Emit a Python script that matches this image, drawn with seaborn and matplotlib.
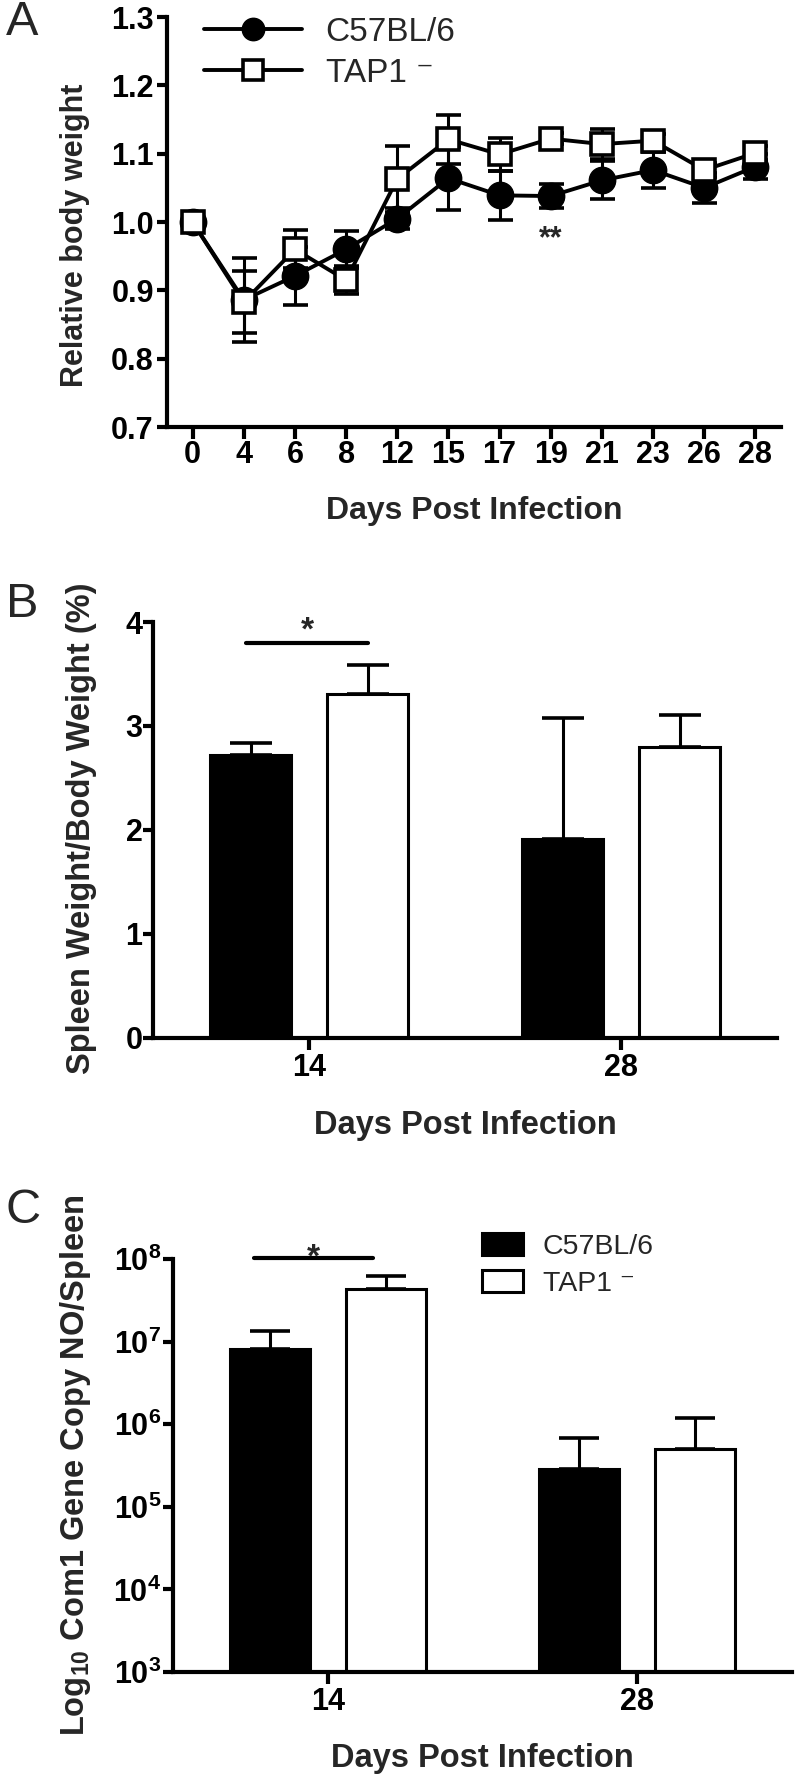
import numpy as np
import pandas as pd
import matplotlib
matplotlib.use("Agg")
import matplotlib.pyplot as plt
import seaborn as sns
from matplotlib.ticker import FormatStrFormatter, NullLocator

# ---- values ----
groups = ["C57BL/6", "TAP1 \u207b"]

# A: relative body weight (mean, SEM)
days_a = ["0", "4", "6", "8", "12", "15", "17", "19", "21", "23", "26", "28"]
c57_weight = [1.000, 0.886, 0.921, 0.960, 1.005, 1.064, 1.039, 1.038, 1.061, 1.076, 1.050, 1.081]
c57_weight_sem = [0.0, 0.061, 0.043, 0.027, 0.015, 0.046, 0.036, 0.017, 0.028, 0.026, 0.022, 0.018]
tap_weight = [1.000, 0.883, 0.960, 0.915, 1.063, 1.121, 1.099, 1.122, 1.114, 1.119, 1.076, 1.101]
tap_weight_sem = [0.0, 0.045, 0.028, 0.020, 0.048, 0.036, 0.024, 0.008, 0.022, 0.010, 0.010, 0.010]

# B: spleen weight / body weight (%)
days_bc = ["14", "28"]
spleen_c57 = [2.72, 1.91]
spleen_c57_sem = [0.12, 1.17]
spleen_tap = [3.31, 2.80]
spleen_tap_sem = [0.28, 0.31]

# C: Com1 gene copies per spleen
copies_c57 = [8.2e6, 2.85e5]
copies_c57_sem = [5.1e6, 3.95e5]
copies_tap = [4.3e7, 5.0e5]
copies_tap_sem = [1.9e7, 6.9e5]
log_exponents = [3, 4, 5, 6, 7, 8]

sns.set_style("ticks")
plt.rcParams["font.family"] = ["Liberation Sans", "DejaVu Sans"]
plt.rcParams.update({
    "axes.linewidth": 3.0,
    "axes.edgecolor": "black",
    "xtick.color": "black",
    "ytick.color": "black",
    "xtick.major.width": 3.0,
    "ytick.major.width": 3.0,
    "xtick.major.size": 8.5,
    "ytick.major.size": 7.5,
    "mathtext.fontset": "custom",
    "mathtext.bf": "Liberation Sans:bold",
    "mathtext.rm": "Liberation Sans:bold",
})

fig = plt.figure(figsize=(8, 17.85), dpi=100)
ax_a = fig.add_axes([0.20875, 0.76078, 0.7675, 0.22969])
ax_b = fig.add_axes([0.19125, 0.41849, 0.78, 0.23305])
ax_c = fig.add_axes([0.21625, 0.06331, 0.77375, 0.23137])


def bold_ticks(ax, size):
    ax.tick_params(labelsize=size)
    for lab in ax.get_xticklabels() + ax.get_yticklabels():
        lab.set_fontweight("bold")


# ---------------- A ----------------
sns.lineplot(x=days_a, y=c57_weight, sort=False, color="black", lw=2.8,
             marker="o", ms=19, mfc="black", mec="black", mew=1,
             label=groups[0], ax=ax_a)
sns.lineplot(x=days_a, y=tap_weight, sort=False, color="black", lw=2.8,
             marker="s", ms=16.5, mfc="white", mec="black", mew=2.6,
             label=groups[1], ax=ax_a)
err_kw = dict(fmt="none", ecolor="black", elinewidth=2.2, capsize=9, capthick=2.6, zorder=1.8)
ax_a.errorbar(days_a, c57_weight, yerr=c57_weight_sem, **err_kw)
ax_a.errorbar(days_a, tap_weight, yerr=tap_weight_sem, **err_kw)

ax_a.set_xlim(-0.5, len(days_a) - 0.5)
ax_a.set_ylim(0.7, 1.3)
ax_a.set_yticks(np.arange(0.7, 1.31, 0.1))
ax_a.yaxis.set_major_formatter(FormatStrFormatter("%.1f"))
ax_a.tick_params(axis="x", pad=1)
ax_a.tick_params(axis="y", pad=2)
bold_ticks(ax_a, 22)
ax_a.set_ylabel("Relative body weight", fontsize=22, fontweight="bold")
ax_a.yaxis.set_label_coords(-0.125, 0.467)
ax_a.set_xlabel("Days Post Infection", fontsize=23, fontweight="bold")
ax_a.xaxis.set_label_coords(0.5, -0.168)
ax_a.text(days_a.index("19"), 0.963, "**", ha="center", va="baseline",
          fontsize=22, fontweight="bold")
ax_a.legend(loc="upper left", bbox_to_anchor=(0.06, 1.0), frameon=False,
            fontsize=24, handlelength=2.95, handletextpad=0.7,
            labelspacing=0.3, borderpad=0, borderaxespad=0, markerscale=0.85)
sns.despine(ax=ax_a)


# ---------------- B / C bars ----------------
def bar_panel(ax, c57, c57_err, tap, tap_err, capsize):
    df = pd.DataFrame({
        "day": days_bc * 2,
        "group": [groups[0]] * len(days_bc) + [groups[1]] * len(days_bc),
        "value": c57 + tap,
    })
    sns.barplot(data=df, x="day", y="value", hue="group", palette=["black", "white"],
                saturation=1, edgecolor="black", linewidth=2.2, width=0.75, gap=0.31,
                errorbar=None, legend=False, ax=ax)
    bars = list(ax.containers)
    for cont, means, errs in zip(bars, [c57, tap], [c57_err, tap_err]):
        centers = [p.get_x() + p.get_width() / 2 for p in cont]
        ax.errorbar(centers, means, yerr=[np.zeros(len(errs)), errs], fmt="none",
                    ecolor="black", elinewidth=2.2, capsize=capsize, capthick=2.6)
    ax.set_xlim(-0.5, len(days_bc) - 0.5)
    sns.despine(ax=ax)
    return bars


bars_b = bar_panel(ax_b, spleen_c57, spleen_c57_sem, spleen_tap, spleen_tap_sem, 15)
ax_b.set_ylim(0, 4)
ax_b.set_yticks([0, 1, 2, 3, 4])
ax_b.tick_params(axis="y", pad=0)
ax_b.tick_params(axis="x", pad=2)
bold_ticks(ax_b, 22)
ax_b.set_ylabel("Spleen Weight/Body Weight (%)", fontsize=23.5, fontweight="bold")
ax_b.yaxis.set_label_coords(-0.09, 0.505)
ax_b.set_xlabel("Days Post Infection", fontsize=23.5, fontweight="bold")
ax_b.xaxis.set_label_coords(0.5, -0.173)
x0 = bars_b[0][0].get_x() + bars_b[0][0].get_width() / 2 - 0.013
x1 = bars_b[1][0].get_x() + bars_b[1][0].get_width() / 2
ax_b.plot([x0, x1], [3.80, 3.80], color="black", lw=3, solid_capstyle="round", clip_on=False)
ax_b.text((x0 + x1) / 2, 3.83, "*", ha="center", va="baseline", fontsize=24, fontweight="bold")

ax_c.set_yscale("log")
bars_c = bar_panel(ax_c, copies_c57, copies_c57_sem, copies_tap, copies_tap_sem, 14.5)
ax_c.set_ylim(10.0 ** log_exponents[0], 10.0 ** log_exponents[-1])
ax_c.set_yticks([10.0 ** e for e in log_exponents])
ax_c.set_yticklabels([rf"$\mathbf{{10^{{{e}}}}}$" for e in log_exponents])
ax_c.yaxis.set_minor_locator(NullLocator())
ax_c.tick_params(axis="y", pad=1)
ax_c.tick_params(axis="x", pad=2)
bold_ticks(ax_c, 22)
ax_c.set_ylabel(r"Log$_{\mathbf{10}}$ Com1 Gene Copy NO/Spleen", fontsize=23.5, fontweight="bold")
ax_c.yaxis.set_label_coords(-0.13, 0.5)
ax_c.set_xlabel("Days Post Infection", fontsize=23.5, fontweight="bold")
ax_c.xaxis.set_label_coords(0.5, -0.172)
x0 = bars_c[0][0].get_x() + bars_c[0][0].get_width() / 2 - 0.05
x1 = bars_c[1][0].get_x() + bars_c[1][0].get_width() / 2 - 0.04
ax_c.plot([x0, x1], [1.02e8, 1.02e8], color="black", lw=3, solid_capstyle="round", clip_on=False)
ax_c.text((x0 + x1) / 2, 8.0e7, "*", ha="center", va="baseline", fontsize=24,
          fontweight="bold", clip_on=False)
ax_c.legend(handles=bars_c, labels=groups, loc="upper left", bbox_to_anchor=(0.499, 1.063),
            frameon=False, fontsize=20.5, handlelength=1.43, handleheight=0.8,
            handletextpad=0.7, labelspacing=0.35, borderpad=0, borderaxespad=0)

# panel letters
for letter, top in [("A", 0), ("B", 582), ("C", 1188)]:
    fig.text(6 / 800, 1 - top / 1785, letter, fontsize=35, ha="left", va="top")

fig.savefig("out.png", dpi=100)
